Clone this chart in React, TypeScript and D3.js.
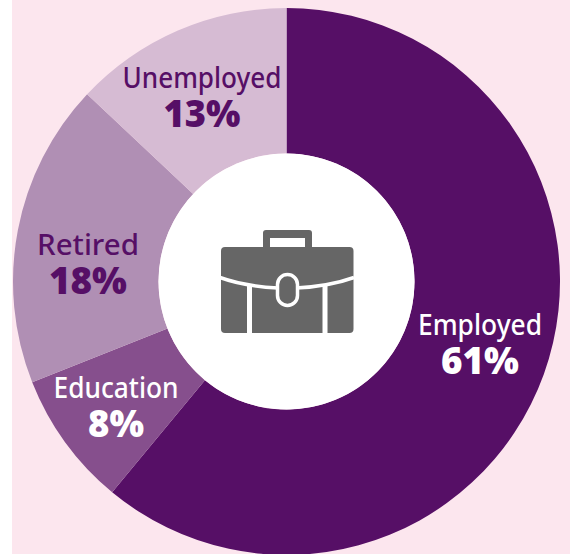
import React from "react";
import * as d3 from "d3";

const categories = ["Employed", "Education", "Retired", "Unemployed"];
const values = [61, 8, 18, 13];
const colors = ["#560f66", "#864f8d", "#b08fb4", "#d6bbd3"];
const labelColors = ["#ffffff", "#ffffff", "#560f66", "#560f66"];
const labelX = [480, 116, 88, 202];
const labelY = [335, 398, 255, 88];
const nameWidths = [124, 125, 102, 159];
const valueWidths = [78, 56, 78, 77];

const W = 570, H = 554, CX = 286.5, CY = 281.500, R = 273.500, r = 128;

export default function App() {
  const pie = d3.pie<number>().sort(null)(values);
  const arc = d3.arc<d3.PieArcDatum<number>>().innerRadius(r).outerRadius(R);
  return (
    <svg width={W} height={H} viewBox={`0 0 ${W} ${H}`} style={{ position: "fixed", left: 0, top: 0, background: "#fff" }}>
      <rect x={12} y={0} width={W - 12} height={H} fill="#fce6ee" />
      <g transform={`translate(${CX},${CY})`}>
        {pie.map((d, i) => <path key={i} d={arc(d) ?? ""} fill={colors[i]} />)}
        <circle r={r} fill="#ffffff" />
      </g>
      <g fontFamily="'Noto Sans', sans-serif" textAnchor="middle">
        {categories.map((c, i) => (
          <g key={c} fill={labelColors[i]}>
            <text x={labelX[i]} y={labelY[i]} fontSize={28} fontWeight={500} textLength={nameWidths[i]} lengthAdjust="spacingAndGlyphs">{c}</text>
            <text x={labelX[i]} y={labelY[i] + 39} fontSize={37} fontWeight={900} textLength={valueWidths[i]} lengthAdjust="spacingAndGlyphs">{values[i]}%</text>
          </g>
        ))}
      </g>
      <g>
        <path fill="#666666" fillRule="evenodd" d="M263 248V233a3 3 0 0 1 3-3h43a3 3 0 0 1 3 3v15h-7v-10h-35v10z" />
        <rect x={221} y={247} width={132.500} height={86} rx={4} fill="#666666" />
        <path d="M220 277.500C238 284 258 287 278 288M296 288C316 287 336 284 354 277.500" fill="none" stroke="#ffffff" strokeWidth={3.500} />
        <path d="M249.500 285V334M325 285V334" fill="none" stroke="#ffffff" strokeWidth={5} />
        <rect x={277.500} y={274.500} width={20} height={31} rx={10} fill="#666666" stroke="#ffffff" strokeWidth={3.500} />
      </g>
    </svg>
  );
}
